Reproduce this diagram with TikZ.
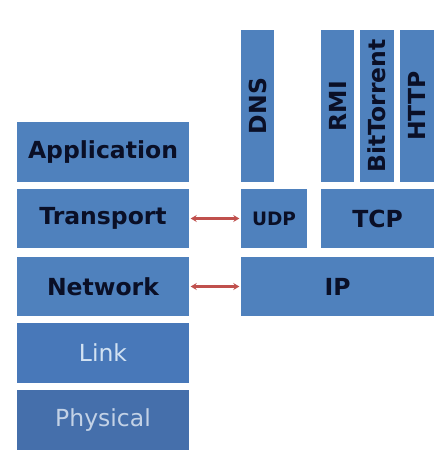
\documentclass[tikz,border=0pt]{standalone}
\usepackage{fontspec}
\setmainfont{DejaVu Sans}
\usetikzlibrary{arrows.meta}
\definecolor{boxblue}{HTML}{4F81BD}
\definecolor{linkblue}{HTML}{4878B9}
\definecolor{physblue}{HTML}{456FAB}
\definecolor{txtdark}{HTML}{0A0F26}
\definecolor{linktxt}{HTML}{D2E2F2}
\definecolor{phystxt}{HTML}{C3D2E6}
\definecolor{arrowred}{HTML}{C0504D}
\pgfdeclareverticalshading{bgshade}{445pt}{color(0pt)=(white); color(260pt)=(white); color(370pt)=(black!10); color(466pt)=(black!22)}
\tikzset{
  box/.style={draw=none, fill=boxblue, inner sep=0pt, text=txtdark, font=\bfseries\fontsize{23.5}{26}\selectfont},
  vbox/.style={box, rotate=90},
  lnk/.style={arrowred, line width=2.2pt, {Stealth[length=6pt,width=7pt]}-{Stealth[length=6pt,width=7pt]}, shorten <=1.5pt, shorten >=1.5pt}
}
\begin{document}
\begin{tikzpicture}[x=1pt,y=-1pt]
\useasboundingbox (0,0) rectangle (445,466);
\shade[shading=bgshade] (0,0) rectangle (445,466);
% left stack
\node[box, minimum width=172pt, minimum height=60pt] (app) at (103,152) {Application};
\node[box, minimum width=172pt, minimum height=59pt] (trans) at (103,218.5) {Transport};
\node[box, minimum width=172pt, minimum height=59pt] (net) at (103,286.5) {Network};
\node[box, fill=linkblue, text=linktxt, font=\fontsize{23.5}{26}\selectfont, minimum width=172pt, minimum height=60pt] (link) at (103,353) {Link};
\node[box, fill=physblue, text=phystxt, font=\fontsize{23.5}{26}\selectfont, minimum width=172pt, minimum height=60pt] (phys) at (103,420) {Physical};
% right stack
\node[vbox, minimum width=152pt, minimum height=33pt] (dns) at (257.5,106) {DNS};
\node[vbox, minimum width=152pt, minimum height=33pt] (rmi) at (337.5,106) {RMI};
\node[vbox, minimum width=152pt, minimum height=34pt] (bt) at (377,106) {BitTorrent};
\node[vbox, minimum width=152pt, minimum height=34pt] (http) at (417,106) {HTTP};
\node[box, font=\bfseries\fontsize{18.5}{21}\selectfont, minimum width=66pt, minimum height=59pt] (udp) at (274,218.5) {UDP};
\node[box, minimum width=113pt, minimum height=59pt] (tcp) at (377.5,218.5) {TCP};
\node[box, minimum width=193pt, minimum height=59pt] (ip) at (337.5,286.5) {IP};
% connectors
\draw[lnk] (trans.east) -- (udp.west);
\draw[lnk] (net.east) -- (ip.west);
\end{tikzpicture}
\end{document}
